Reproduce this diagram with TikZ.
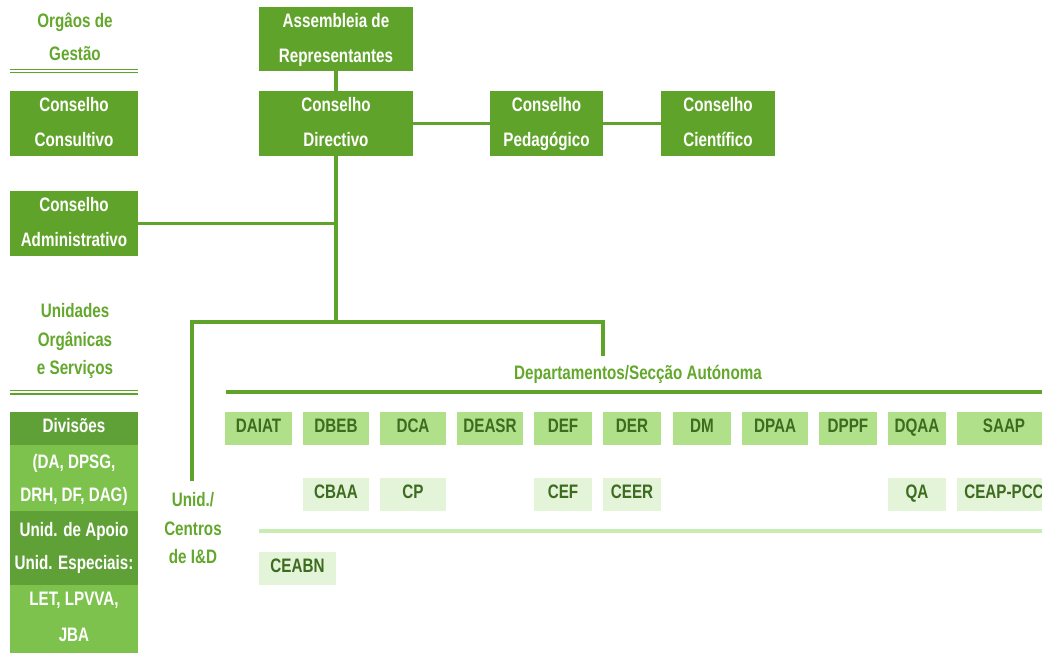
\documentclass[tikz,border=0pt]{standalone}
\usepackage{fontspec}
\setmainfont{Liberation Sans}[FakeStretch=0.78]
\definecolor{cBox}{RGB}{96,163,42}
\definecolor{cDivDark}{RGB}{95,160,55}
\definecolor{cDivLight}{RGB}{125,194,77}
\definecolor{cDept}{RGB}{177,224,138}
\definecolor{cCentre}{RGB}{227,244,216}
\definecolor{cDeptText}{RGB}{61,107,31}
\definecolor{cLabel}{RGB}{99,168,44}
\definecolor{cLight}{RGB}{201,236,179}
\newcommand\fnt{\fontsize{19.5}{35}\selectfont\bfseries}
\newcommand\fntc{\fontsize{19.5}{33}\selectfont\bfseries}
\newcommand\fntd{\fontsize{19.5}{36}\selectfont\bfseries}
\newcommand\fntb{\fontsize{19.5}{28.3}\selectfont\bfseries}
\newcommand\vstrut[1]{\rule[-#1pt]{0pt}{\dimexpr 20pt+#1pt\relax}}
\tikzset{
  up/.style={execute at begin node=\vstrut{#1},
             execute at end node=\vstrut{#1}},
  % multi-line: #1 = height above last baseline, #2 = depth
  ml/.style 2 args={text height=#1pt, text depth=#2pt},
  base/.style={inner sep=0pt, outer sep=0pt, anchor=north west, align=center, font=\fnt},
  gbox/.style={base, fill=cBox, text=white, ml={55}{8.6}},
  divdark/.style={base, font=\fntc, fill=cDivDark, text=white, minimum width=128pt},
  divlight/.style={base, font=\fntc, fill=cDivLight, text=white, minimum width=128pt},
  dept/.style={base, fill=cDept, text=cDeptText, minimum height=33pt, up=12.4},
  centre/.style={base, fill=cCentre, text=cDeptText, minimum height=33pt, up=12.4},
  label/.style={inner sep=0pt, outer sep=0pt, align=center, text=cLabel, font=\fntb},
  conn/.style={draw=cBox, line width=3.6pt},
  bar/.style={draw=cBox, line width=4.4pt},
  lbar/.style={draw=cLight, line width=4.6pt},
  dbl/.style={draw=cBox, line width=1.4pt},
}
\begin{document}
\begin{tikzpicture}[x=1pt,y=-1pt]
\useasboundingbox (0,0) rectangle (1042,653);
\clip (0,0) rectangle (1042,653);
% left column headings
\node[label, font=\fntc, ml={53}{6}] (hOrg) at (75,36.7) {Orgâos de\\Gestão};
\coordinate (d1a) at (10,69.6); \coordinate (d1b) at (138,69.6);
\coordinate (d2a) at (10,72.4); \coordinate (d2b) at (138,72.4);
\draw[dbl] (d1a) -- (d1b); \draw[dbl] (d2a) -- (d2b);
\node[gbox, minimum width=128pt, minimum height=65pt] (cc) at (10,91) {Conselho\\Consultivo};
\node[gbox, minimum width=128pt, minimum height=65pt] (cadm) at (10,191) {Conselho\\Administrativo};
\node[label, ml={76.6}{6}] (hUni) at (75,339) {Unidades\\Orgânicas\\e Serviços};
\coordinate (d3a) at (10,390.2); \coordinate (d3b) at (138,390.2);
\coordinate (d4a) at (10,393.8); \coordinate (d4b) at (138,393.8);
\draw[dbl] (d3a) -- (d3b); \draw[dbl] (d4a) -- (d4b);
\node[divdark, minimum height=33pt, up=12.4] (div1) at (10,412) {Divisões};
\node[divlight, minimum height=66pt, ml={53}{7}] (div2) at (10,445) {(DA, DPSG,\\DRH, DF, DAG)};
\node[divdark, minimum height=74pt, ml={53}{11}] (div3) at (10,511) {Unid. de Apoio\\Unid. Especiais:};
\node[divlight, font=\fntd, minimum height=67pt, ml={56}{15}] (div4) at (10,585) {LET, LPVVA,\\JBA};
% governing bodies
\node[gbox, minimum width=154pt, minimum height=62pt] (ar) at (259,7) {Assembleia de\\Representantes};
\node[gbox, minimum width=154pt, minimum height=65pt] (cd) at (259,91) {Conselho\\Directivo};
\node[gbox, minimum width=113pt, minimum height=65pt] (cpd) at (490,91) {Conselho\\Pedagógico};
\node[gbox, minimum width=114pt, minimum height=65pt] (cci) at (661,91) {Conselho\\Científico};
\draw[conn] (ar.south) -- (cd.north);
\draw[conn] (cd.east) -- (cpd.west);
\draw[conn] (cpd.east) -- (cci.west);
\coordinate (j1) at (336,322);
\coordinate (jl) at (192,322);
\coordinate (jr) at (603,322);
\coordinate (jle) at (192,481);
\coordinate (jre) at (603,356);
\draw[conn] (cadm.east) -- (cadm.east -| cd.south);
\draw[conn] (cd.south) -- (j1);
\draw[conn] (jle) -- (jl) -- (jr) -- (jre);
% departments
\node[label, up=6] (hDep) at (638,372) {Departamentos/Secção Autónoma};
\coordinate (b1) at (226,392); \coordinate (b2) at (1042,392);
\draw[bar] (b1) -- (b2);
\node[dept, minimum width=67pt] (daiat) at (225,412) {DAIAT};
\node[dept, minimum width=66pt] (dbeb) at (303,412) {DBEB};
\node[dept, minimum width=66pt] (dca) at (380,412) {DCA};
\node[dept, minimum width=66pt] (deasr) at (457,412) {DEASR};
\node[dept, minimum width=58pt] (def) at (534,412) {DEF};
\node[dept, minimum width=58pt] (der) at (603,412) {DER};
\node[dept, minimum width=58pt] (dm) at (673,412) {DM};
\node[dept, minimum width=66pt] (dpaa) at (742,412) {DPAA};
\node[dept, minimum width=58pt] (dppf) at (819,412) {DPPF};
\node[dept, minimum width=58pt] (dqaa) at (888,412) {DQAA};
\node[dept, minimum width=94pt] (saap) at (957,412) {SAAP};
% centres
\node[label, ml={76.6}{6}] (hCen) at (193,528) {Unid./\\Centros\\de I\&D};
\node[centre, minimum width=66pt] (cbaa) at (303,478) {CBAA};
\node[centre, minimum width=66pt] (cp) at (380,478) {CP};
\node[centre, minimum width=58pt] (cef) at (534,478) {CEF};
\node[centre, minimum width=58pt] (ceer) at (603,478) {CEER};
\node[centre, minimum width=58pt] (qa) at (888,478) {QA};
\node[centre, minimum width=94pt] (ceap) at (957,478) {CEAP-PCC};
\coordinate (l1) at (259,531); \coordinate (l2) at (1042,531);
\draw[lbar] (l1) -- (l2);
\node[centre, minimum width=77pt] (ceabn) at (259,552) {CEABN};
\end{tikzpicture}
\end{document}
